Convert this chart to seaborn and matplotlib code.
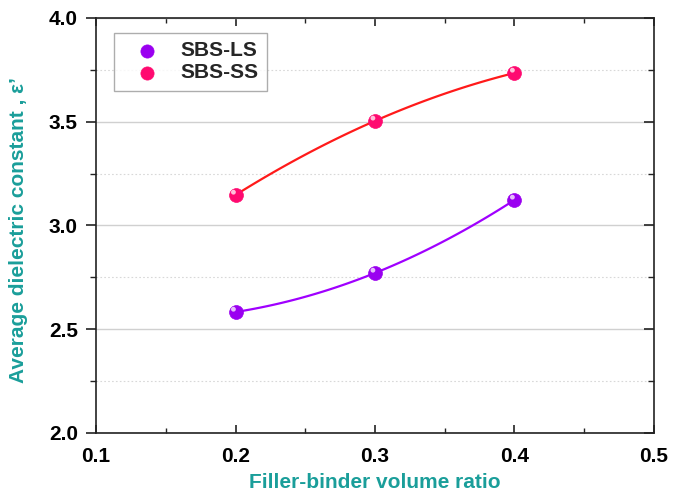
import numpy as np
import pandas as pd
import matplotlib
matplotlib.use("Agg")
import matplotlib.pyplot as plt
import matplotlib.transforms as mtransforms
from matplotlib.ticker import MultipleLocator
import seaborn as sns

# ---- data ----
ratio = [0.2, 0.3, 0.4]
sbs_ls = [2.583, 2.771, 3.123]
sbs_ss = [3.147, 3.504, 3.735]
series_names = ["SBS-LS", "SBS-SS"]

sns.set_theme(style="white")
plt.rcParams['font.family'] = ['Liberation Sans', 'DejaVu Sans']

fig = plt.figure(figsize=(6.83, 4.94), dpi=100)
ax = fig.add_axes([0.1406, 0.1235, 0.8169, 0.8401])

df = pd.DataFrame({"ratio": ratio * 2,
                   "value": sbs_ls + sbs_ss,
                   "series": [series_names[0]] * 3 + [series_names[1]] * 3})

line_colors = {"SBS-LS": "#a000ff", "SBS-SS": "#ff1a1a"}
marker_colors = {"SBS-LS": "#9a00f0", "SBS-SS": "#ff0a70"}

for name in series_names:
    sub = df[df.series == name]
    sns.regplot(data=sub, x="ratio", y="value", order=2, ci=None, scatter=False,
                ax=ax, line_kws=dict(color=line_colors[name], lw=1.6), truncate=True)
    sns.scatterplot(data=sub, x="ratio", y="value", ax=ax, s=100,
                    color=marker_colors[name], edgecolor=marker_colors[name],
                    linewidth=0.5, zorder=5, label=name)
    # glossy highlight
    off = mtransforms.offset_copy(ax.transData, fig=fig, x=-1.5, y=2.0, units='points')
    ax.scatter(sub.ratio, sub.value, s=12, color="white", alpha=0.75,
               edgecolor="none", zorder=6, transform=off)

ax.set_xlim(0.1, 0.5)
ax.set_ylim(2.0, 4.0)
ax.xaxis.set_major_locator(MultipleLocator(0.1))
ax.xaxis.set_minor_locator(MultipleLocator(0.05))
ax.yaxis.set_major_locator(MultipleLocator(0.5))
ax.yaxis.set_minor_locator(MultipleLocator(0.25))

ax.grid(True, which='major', axis='y', color='#d0d0d0', lw=1.0, ls='-')
ax.grid(True, which='minor', axis='y', color='#d8d8d8', lw=0.8, ls=(0, (1.5, 2)))
ax.set_axisbelow(True)

for s in ax.spines.values():
    s.set_color('#222222')
    s.set_linewidth(1.2)

ax.tick_params(axis='x', which='both', direction='in', top=True, bottom=True,
               colors='#222222', labelcolor='black')
ax.tick_params(axis='x', which='major', length=6, width=1.2, labelsize=15, pad=10)
ax.tick_params(axis='x', which='minor', length=3.5, width=1.0)
ax.tick_params(axis='y', which='both', left=True, right=True, direction='out',
               colors='#222222', labelcolor='black')
ax.tick_params(axis='y', which='major', length=7, width=1.2, labelsize=15, pad=6)
ax.tick_params(axis='y', which='minor', length=4, width=1.0)
# right side ticks inward
for t in ax.yaxis.get_major_ticks() + ax.yaxis.get_minor_ticks():
    t.tick2line.set_marker(0)
for lab in ax.get_xticklabels() + ax.get_yticklabels():
    lab.set_fontweight('bold')

ax.set_xlabel("Filler-binder volume ratio", fontsize=15, fontweight='bold',
              color='#1a9e9a', labelpad=5)
ax.set_ylabel("Average dielectric constant , ε’", fontsize=15, fontweight='bold',
              color='#1a9e9a', labelpad=9)
ax.yaxis.set_label_coords(-0.122, 0.49)

leg = ax.legend(loc='upper left', bbox_to_anchor=(0.032, 0.964), borderaxespad=0,
                fontsize=15, frameon=True, fancybox=False, edgecolor='#999999',
                handletextpad=0.4, borderpad=0.4, labelspacing=0.15,
                markerscale=0.95, handlelength=2.4)
leg.get_frame().set_linewidth(1.0)
for txt in leg.get_texts():
    txt.set_fontweight('bold')

fig.savefig("out.png", dpi=100)
